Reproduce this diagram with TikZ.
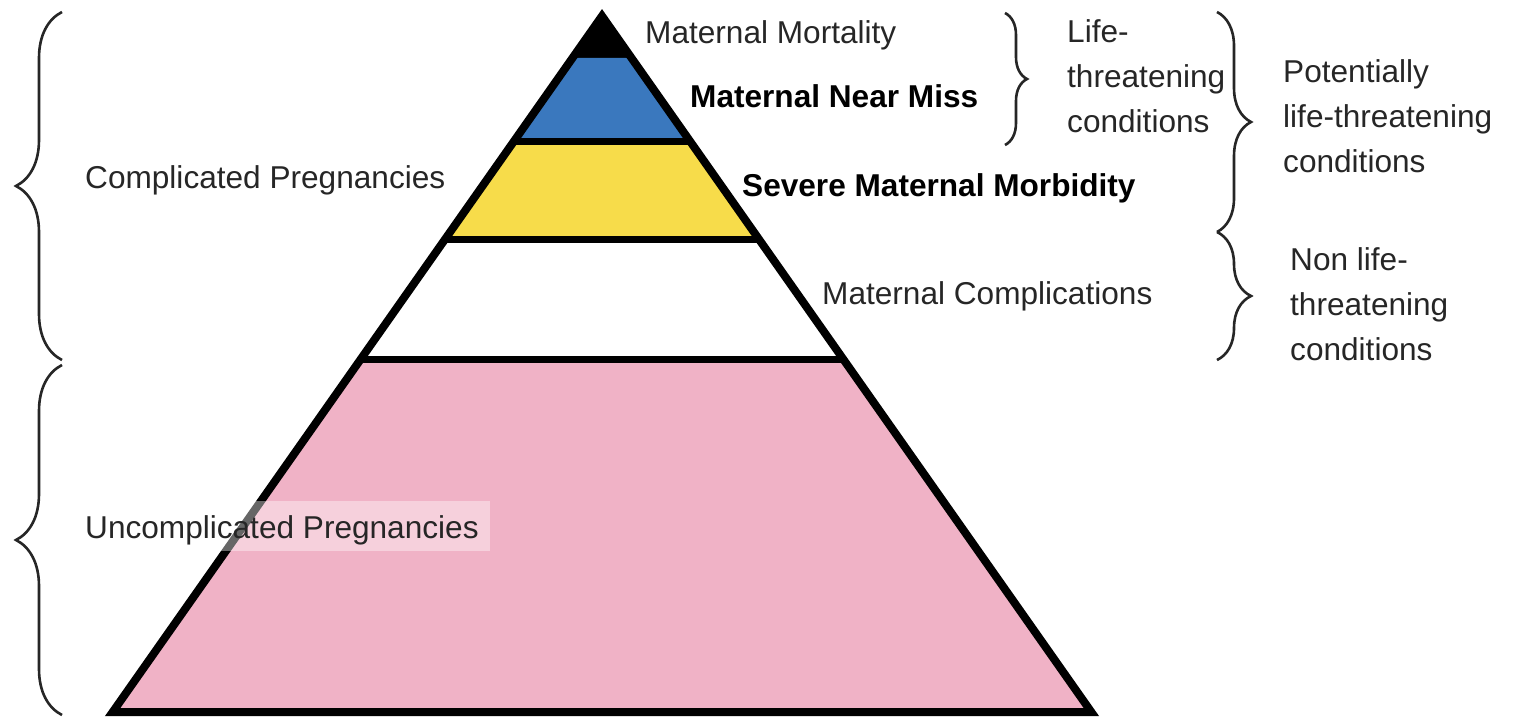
\documentclass[tikz,border=0pt]{standalone}
\usepackage{fontspec}
\setmainfont{Liberation Sans}
\usetikzlibrary{decorations.pathreplacing}
\definecolor{pinkfill}{HTML}{F0B2C6}
\definecolor{bluefill}{HTML}{3A78BE}
\definecolor{yellowfill}{HTML}{F7DC4A}
\definecolor{txt}{HTML}{262626}
\begin{document}
\begin{tikzpicture}[x=1pt,y=-1pt,
  lbl/.style={inner sep=0pt, anchor=base west, text=txt, font=\fontsize{31.6}{45}\selectfont},
  blbl/.style={inner sep=0pt, anchor=base west, text=black, font=\fontsize{31.6}{45}\selectfont\bfseries},
  mlbl/.style={inner sep=0pt, anchor=north west, text=txt, align=left, font=\fontsize{31.6}{45}\selectfont},
  brc/.style={decorate, decoration={brace, amplitude=#1}, line width=2.6pt, draw=txt},
  edge/.style={line width=8pt, draw=black},
  sep/.style={line width=7pt, draw=black}
]
\useasboundingbox (0,0) rectangle (1516,719);
% bands
\fill[black] (602,16) -- (631.5,58) -- (572.5,58) -- cycle;
\fill[bluefill] (572.5,58) -- (631.5,58) -- (690.6,142) -- (513.4,142) -- cycle;
\fill[yellowfill] (513.4,142) -- (690.6,142) -- (759.5,240) -- (444.5,240) -- cycle;
\fill[pinkfill] (360.2,360) -- (843.8,360) -- (1091.3,712) -- (112.7,712) -- cycle;
% separators and outline
\draw[sep] (513.4,142) -- (690.6,142);
\draw[sep] (444.5,240) -- (759.5,240);
\draw[sep] (360.2,360) -- (843.8,360);
\draw[edge] (602,16) -- (1091.3,712) -- (112.7,712) -- cycle;
% translucent label backing
\fill[white, opacity=0.4] (78,501) rectangle (490,551);
% braces
\draw[brc=22] (1005,13) -- (1005,145);
\draw[brc=34] (1217,12) -- (1217,232);
\draw[brc=34] (1217,232) -- (1217,360);
\draw[brc=46] (62,360) -- (62,12);
\draw[brc=46] (62,715) -- (62,365);
% labels
\node[lbl] (mm) at (645,43.5) {Maternal Mortality};
\node[blbl] (nm) at (690,108) {Maternal Near Miss};
\node[blbl] (smm) at (742,197) {Severe Maternal Morbidity};
\node[lbl] (mc) at (822,305) {Maternal Complications};
\node[lbl] (cp) at (85,189) {Complicated Pregnancies};
\node[lbl] (up) at (85,538) {Uncomplicated Pregnancies};
\node[mlbl] (ltc) at (1067,19) {Life-\\threatening\\conditions};
\node[mlbl] (pltc) at (1283,59) {Potentially\\life-threatening\\conditions};
\node[mlbl] (nltc) at (1290,247) {Non life-\\threatening\\conditions};
\end{tikzpicture}
\end{document}
